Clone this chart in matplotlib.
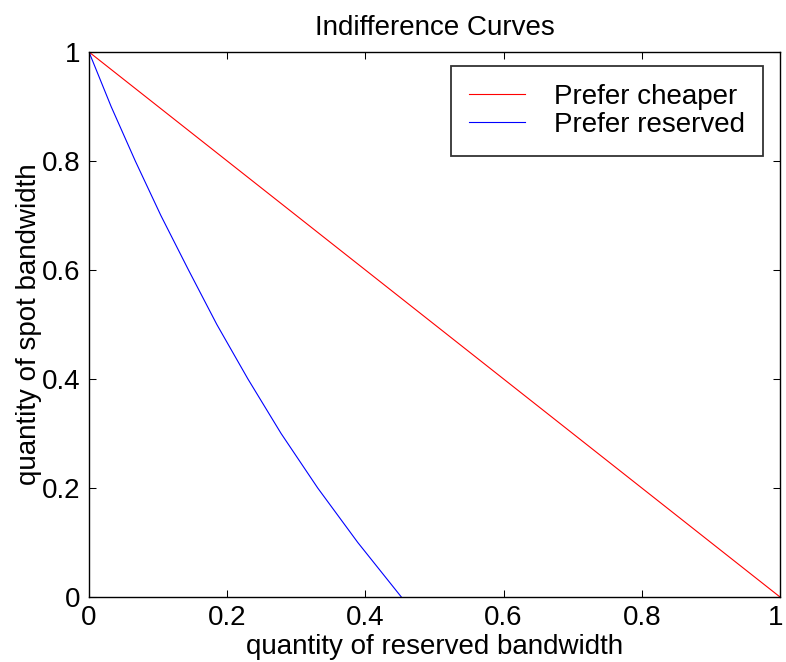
import numpy as np
import matplotlib
matplotlib.use('Agg')
import matplotlib.pyplot as plt
import matplotlib.transforms as mtransforms

plt.rcParams['font.family'] = ['Liberation Sans', 'DejaVu Sans']

# data
cheap_x = [0.0, 1.0]
cheap_y = [1.0, 0.0]

reserved_y = [1.0, 0.9, 0.8, 0.7, 0.6, 0.5, 0.4, 0.3, 0.2, 0.1, 0.0]
reserved_x = [0.0, 0.032, 0.067, 0.104, 0.144, 0.185, 0.230, 0.278, 0.331, 0.389, 0.452]

ticks = [0, 0.2, 0.4, 0.6, 0.8, 1]
tick_labels = ['0', '0.2', '0.4', '0.6', '0.8', '1']

fs = 20

fig = plt.figure(figsize=(7.86, 6.62), dpi=100)
ax = fig.add_axes([89/786, 1 - 597/662, 691/786, 545/662])

ax.plot(cheap_x, cheap_y, color='#ff0000', lw=0.8, label='Prefer cheaper')
ax.plot(reserved_x, reserved_y, color='#0000ff', lw=0.8, label='Prefer reserved')

ax.set_xlim(0, 1)
ax.set_ylim(0, 1)
ax.set_xticks(ticks)
ax.set_xticklabels(tick_labels)
ax.set_yticks(ticks)
ax.set_yticklabels(tick_labels)
ax.tick_params(direction='in', length=5, width=0.75, labelsize=fs,
               top=True, right=True, pad=6)
for s in ax.spines.values():
    s.set_linewidth(1.0)

# keep the last x label inside the picture
last = ax.get_xticklabels()[-1]
last.set_transform(last.get_transform() +
                   mtransforms.ScaledTranslation(-4/100, 0, fig.dpi_scale_trans))

ax.set_xlabel('quantity of reserved bandwidth', fontsize=fs, labelpad=2)
ax.set_ylabel('quantity of spot bandwidth', fontsize=fs, labelpad=0)
ax.set_title('Indifference Curves', fontsize=fs, pad=12)

leg = ax.legend(loc='upper right', bbox_to_anchor=(763/786, 1 - 66/662),
                bbox_transform=fig.transFigure, fontsize=fs, frameon=True,
                fancybox=False, handlelength=2.0, handletextpad=1.05,
                labelspacing=0.06, borderpad=0.65, borderaxespad=0)
leg.get_frame().set_edgecolor('black')
leg.get_frame().set_linewidth(1.3)

fig.savefig('out.png', dpi=100)
